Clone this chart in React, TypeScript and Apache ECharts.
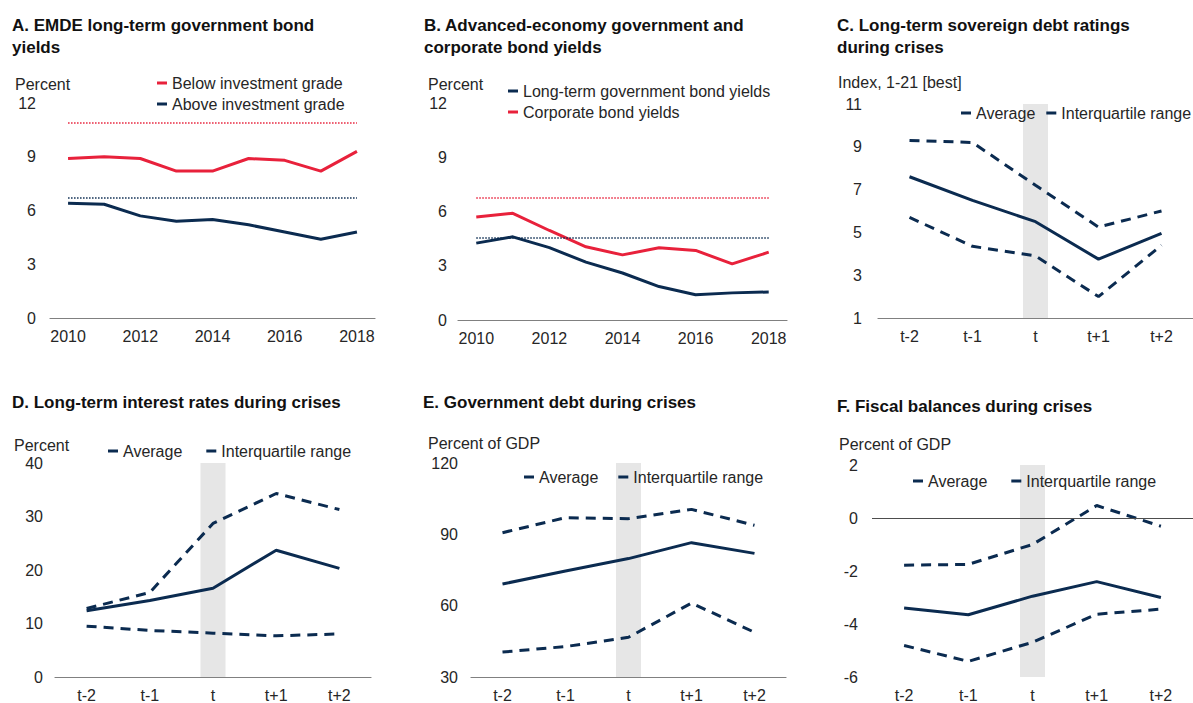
import React, { useEffect, useRef } from "react";
import * as echarts from "echarts";

// ---------- data ----------
const years = ["2010", "2011", "2012", "2013", "2014", "2015", "2016", "2017", "2018"];
const belowIG = [8.9, 9.0, 8.9, 8.2, 8.2, 8.9, 8.8, 8.2, 9.3];
const aboveIG = [6.4, 6.35, 5.7, 5.4, 5.5, 5.2, 4.8, 4.4, 4.8];
const belowIGAverage = 10.9;
const aboveIGAverage = 6.7;

const govBondYields = [4.25, 4.6, 4.0, 3.2, 2.6, 1.85, 1.4, 1.5, 1.55];
const corpBondYields = [5.7, 5.9, 4.95, 4.05, 3.6, 4.0, 3.85, 3.1, 3.75];
const corpAverage = 6.75;
const govAverage = 4.55;

const periods = ["t-2", "t-1", "t", "t+1", "t+2"];
const crisisPeriod = "t";

const ratingAvg = [7.6, 6.5, 5.5, 3.75, 4.95];
const ratingP75 = [9.3, 9.2, 7.2, 5.25, 6.0];
const ratingP25 = [5.7, 4.35, 3.9, 2.0, 4.4];

const rateAvg = [12.4, 14.3, 16.6, 23.7, 20.3];
const rateP75 = [12.8, 15.8, 28.7, 34.3, 31.3];
const rateP25 = [9.5, 8.7, 8.2, 7.7, 8.05];

const debtAvg = [69.1, 74.6, 79.8, 86.5, 82.0];
const debtP75 = [90.7, 97.0, 96.6, 100.5, 93.8];
const debtP25 = [40.5, 42.8, 46.7, 61.1, 48.8];

const fiscalAvg = [-3.4, -3.65, -2.95, -2.4, -3.0];
const fiscalP75 = [-1.78, -1.75, -1.0, 0.47, -0.31];
const fiscalP25 = [-4.81, -5.41, -4.69, -3.63, -3.44];

const yTicksC = [1, 3, 5, 7, 9, 11];

// ---------- style ----------
const FONT = '"Liberation Sans", Arial, Helvetica, sans-serif';
const NAVY = "#0b2b50";
const RED = "#e8213b";
const BAND = "#e6e6e6";
const AXIS = "#808080";
const TXT = "#262626";

const grids = [
  { left: 50, top: 103, width: 325, height: 215 },
  { left: 458, top: 103, width: 329, height: 217 },
  { left: 878, top: 104, width: 321, height: 214 },
  { left: 55, top: 463, width: 316, height: 215 },
  { left: 471, top: 463, width: 315, height: 215 },
  { left: 872, top: 465, width: 326, height: 213 },
];

const yRanges = [
  { min: 0, max: 12, interval: 3, margin: 14 },
  { min: 0, max: 12, interval: 3, margin: 11 },
  { min: 1, max: 11, margin: 16, custom: yTicksC },
  { min: 0, max: 40, interval: 10, margin: 12 },
  { min: 30, max: 120, interval: 30, margin: 13 },
  { min: -6, max: 2, interval: 2, margin: 14 },
];

function bandData(value: number) {
  return periods.map((p) => (p === crisisPeriod ? value : null));
}

function crisisSeries(idx: number, avg: number[], p75: number[], p25: number[], extra: any = {}) {
  const dashed = { color: NAVY, width: 3, type: [10, 7] as any };
  return [
    {
      type: "line", name: "Average", xAxisIndex: idx, yAxisIndex: idx, data: avg,
      symbol: "none", z: 4, lineStyle: { color: NAVY, width: 3 }, itemStyle: { color: NAVY },
      ...extra,
    },
    {
      type: "line", name: "Interquartile range", xAxisIndex: idx, yAxisIndex: idx, data: p75,
      symbol: "none", z: 4, lineStyle: dashed, itemStyle: { color: NAVY },
    },
    {
      type: "line", name: "Interquartile range", xAxisIndex: idx, yAxisIndex: idx, data: p25,
      symbol: "none", z: 4, lineStyle: dashed, itemStyle: { color: NAVY },
    },
  ];
}

function bandSeries(idx: number, value: number, stack?: string) {
  return {
    type: "bar", name: "band" + idx + "_" + value, xAxisIndex: idx, yAxisIndex: idx,
    data: bandData(value), barWidth: 25, stack, itemStyle: { color: BAND }, z: 1, silent: true,
    clip: true,
  };
}

function avgLine(value: number, color: string) {
  return {
    silent: true,
    symbol: ["none", "none"],
    label: { show: false },
    lineStyle: { color, width: 1.5, type: "dotted" },
    data: [[{ coord: [years[0], value] }, { coord: [years[years.length - 1], value] }]],
  };
}

const legendText = { fontSize: 16, color: TXT, fontFamily: FONT };
function legend(left: number, top: number, names: string[], orient: string, itemGap: number) {
  return {
    data: names, left, top, orient, itemGap, padding: 0, icon: "rect",
    itemWidth: 10, itemHeight: 3, textStyle: legendText, selectedMode: false,
  };
}

function titleText(left: number, top: number, text: string) {
  return {
    type: "text", left, top,
    style: { text, font: `bold 17px ${FONT}`, fill: "#111", lineHeight: 22 },
  };
}
function unitText(left: number, top: number, text: string) {
  return {
    type: "text", left, top,
    style: { text, font: `16px ${FONT}`, fill: TXT, lineHeight: 18 },
  };
}

export default function App() {
  const ref = useRef<HTMLDivElement>(null);

  useEffect(() => {
    if (!ref.current) return;
    const chart = echarts.init(ref.current, undefined, { renderer: "svg" });

    const xAxes = grids.map((_, i) => ({
      type: "category",
      gridIndex: i,
      data: i < 2 ? years : periods,
      boundaryGap: true,
      axisTick: { show: false },
      axisLine: { show: i !== 5, onZero: false, lineStyle: { color: AXIS, width: 1.2 } },
      axisLabel: {
        fontSize: 16, color: TXT, fontFamily: FONT, margin: 10,
        interval: i < 2 ? 1 : 0,
      },
    }));

    const yAxes = yRanges.map((r: any, i) => ({
      type: "value",
      gridIndex: i,
      min: r.min,
      max: r.max,
      ...(r.interval ? { interval: r.interval } : {}),
      axisLine: { show: false },
      axisTick: { show: false },
      splitLine: { show: false },
      axisLabel: {
        fontSize: 16, color: TXT, fontFamily: FONT, margin: r.margin,
        ...(r.custom ? { customValues: r.custom } : {}),
      },
    }));

    const series: any[] = [
      // Panel A
      {
        type: "line", name: "Below investment grade", xAxisIndex: 0, yAxisIndex: 0, data: belowIG,
        symbol: "none", lineStyle: { color: RED, width: 3 }, itemStyle: { color: RED },
        markLine: avgLine(belowIGAverage, RED),
      },
      {
        type: "line", name: "Above investment grade", xAxisIndex: 0, yAxisIndex: 0, data: aboveIG,
        symbol: "none", lineStyle: { color: NAVY, width: 3 }, itemStyle: { color: NAVY },
        markLine: avgLine(aboveIGAverage, NAVY),
      },
      // Panel B
      {
        type: "line", name: "Long-term government bond yields", xAxisIndex: 1, yAxisIndex: 1, data: govBondYields,
        symbol: "none", lineStyle: { color: NAVY, width: 3 }, itemStyle: { color: NAVY },
        markLine: avgLine(govAverage, NAVY),
      },
      {
        type: "line", name: "Corporate bond yields", xAxisIndex: 1, yAxisIndex: 1, data: corpBondYields,
        symbol: "none", lineStyle: { color: RED, width: 3 }, itemStyle: { color: RED },
        markLine: avgLine(corpAverage, RED),
      },
      // Bands
      bandSeries(2, yRanges[2].max),
      bandSeries(3, yRanges[3].max),
      bandSeries(4, yRanges[4].max),
      bandSeries(5, yRanges[5].max, "bandF"),
      bandSeries(5, yRanges[5].min, "bandF"),
      // Crisis panels
      ...crisisSeries(2, ratingAvg, ratingP75, ratingP25),
      ...crisisSeries(3, rateAvg, rateP75, rateP25),
      ...crisisSeries(4, debtAvg, debtP75, debtP25),
      ...crisisSeries(5, fiscalAvg, fiscalP75, fiscalP25, {
        markLine: {
          silent: true,
          symbol: ["none", "none"],
          label: { show: false },
          lineStyle: { color: "#4d4d4d", width: 1, type: "solid" },
          data: [{ yAxis: 0 }],
        },
      }),
    ];

    const crisisNames = ["Average", "Interquartile range"];

    chart.setOption({
      animation: false,
      backgroundColor: "#ffffff",
      textStyle: { fontFamily: FONT },
      grid: grids,
      xAxis: xAxes,
      yAxis: yAxes,
      legend: [
        legend(157, 75, ["Below investment grade", "Above investment grade"], "vertical", 5),
        legend(508, 83, ["Long-term government bond yields", "Corporate bond yields"], "vertical", 5),
        legend(961, 105, crisisNames, "horizontal", 11),
        legend(108, 443, crisisNames, "horizontal", 24),
        legend(524, 469, crisisNames, "horizontal", 20),
        legend(913, 473, crisisNames, "horizontal", 24),
      ],
      graphic: [
        titleText(12, 14, "A. EMDE long-term government bond\nyields"),
        titleText(424, 14, "B. Advanced-economy government and\ncorporate bond yields"),
        titleText(837, 14, "C. Long-term sovereign debt ratings\nduring crises"),
        titleText(12, 391, "D. Long-term interest rates during crises"),
        titleText(423, 391, "E. Government debt during crises"),
        titleText(837, 395, "F. Fiscal balances during crises"),
        unitText(15, 75, "Percent"),
        unitText(428, 75, "Percent"),
        unitText(838, 73, "Index, 1-21 [best]"),
        unitText(14, 436, "Percent"),
        unitText(428, 434, "Percent of GDP"),
        unitText(839, 435, "Percent of GDP"),
      ],
      series,
    });

    return () => chart.dispose();
  }, []);

  return (
    <div
      ref={ref}
      style={{ position: "absolute", left: 0, top: 0, width: 1193, height: 703, background: "#fff" }}
    />
  );
}
